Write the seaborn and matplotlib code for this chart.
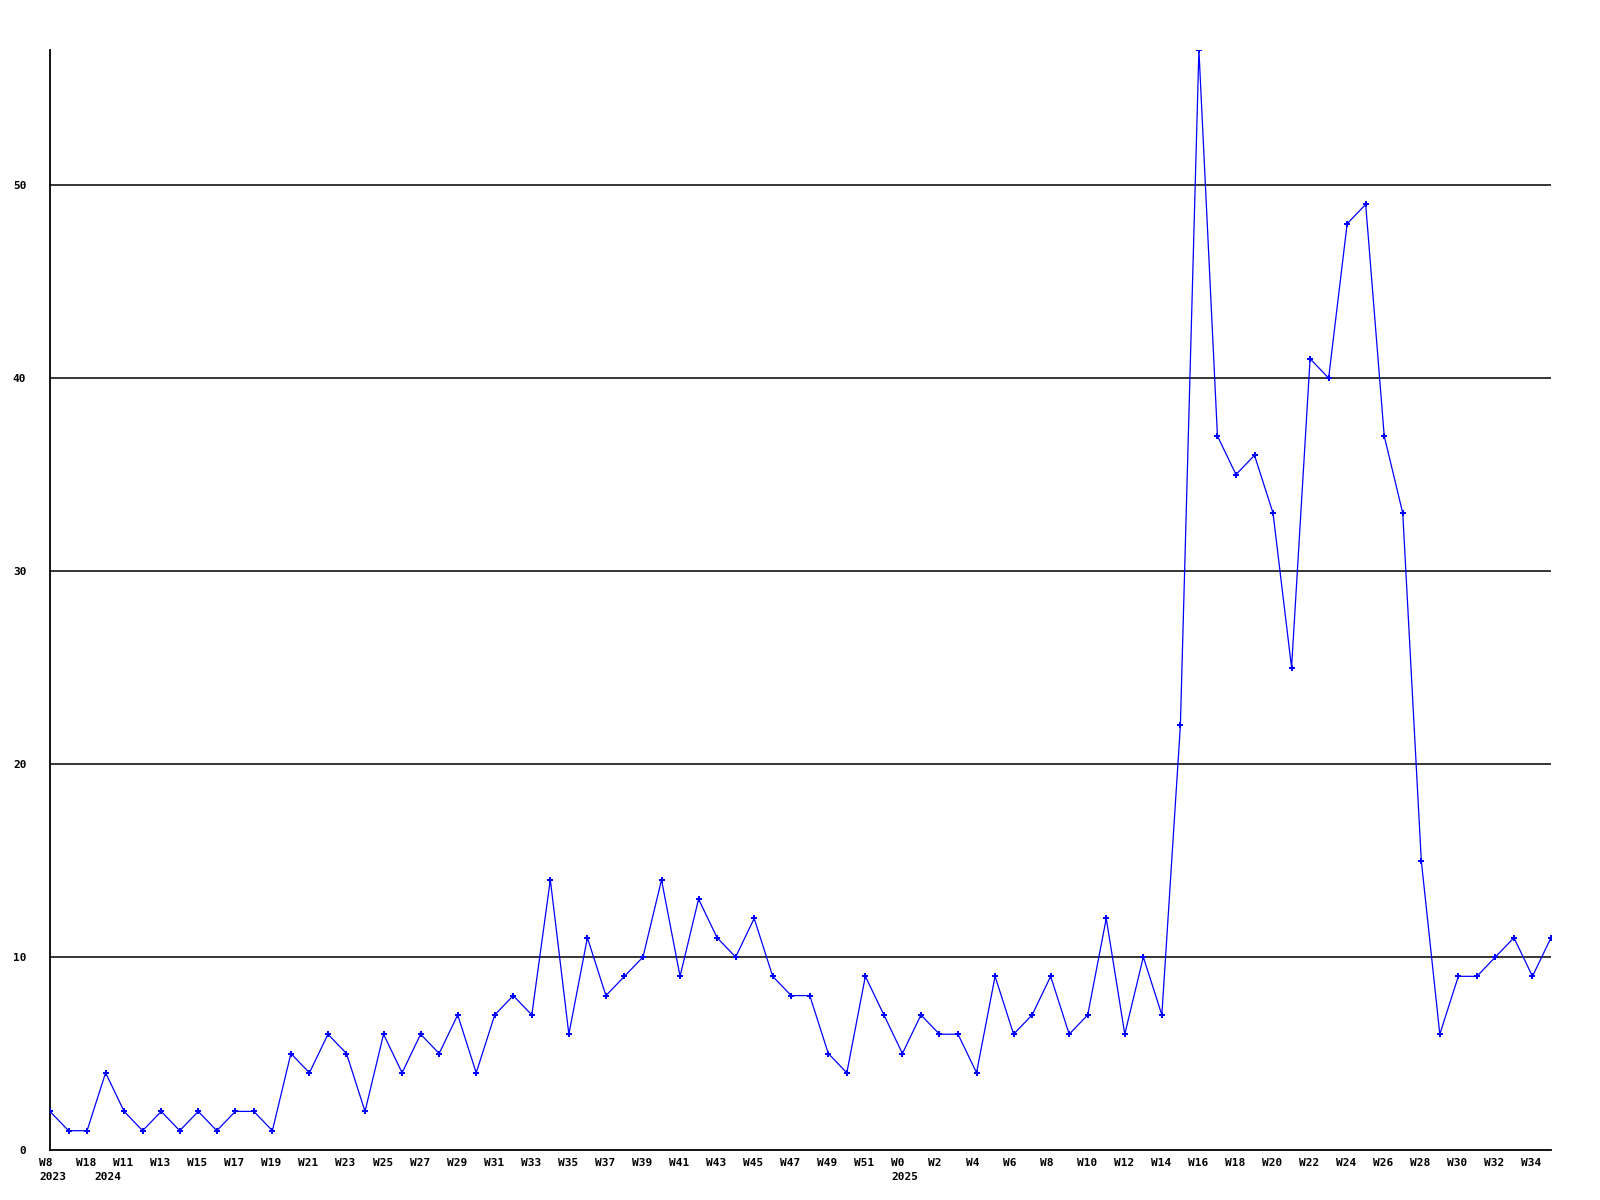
"""
Weekly counts, 2023 W8 .. 2025 W35, as a single blue line with plus markers.
"""
import matplotlib

matplotlib.use("Agg")
import matplotlib.pyplot as plt
import matplotlib.transforms as mtransforms
import pandas as pd
import seaborn as sns

# year / ISO-ish week of each point, in order
years = [2023] * 3 + [2024] * 43 + [2025] * 36
weeks = [8, 12, 18] + list(range(10, 53)) + list(range(0, 36))

counts = [
    2, 1, 1, 4, 2, 1, 2, 1, 2, 1,
    2, 2, 1, 5, 4, 6, 5, 2, 6, 4,
    6, 5, 7, 4, 7, 8, 7, 14, 6, 11,
    8, 9, 10, 14, 9, 13, 11, 10, 12, 9,
    8, 8, 5, 4, 9, 7, 5, 7, 6, 6,
    4, 9, 6, 7, 9, 6, 7, 12, 6, 10,
    7, 22, 57, 37, 35, 36, 33, 25, 41, 40,
    48, 49, 37, 33, 15, 6, 9, 9, 10, 11,
    9, 11,
]

df = pd.DataFrame({"year": years, "week": weeks, "count": counts})
df["pos"] = range(len(df))
df["label"] = "W" + df["week"].astype(str)

sns.set_style("white")
plt.rcParams["font.family"] = ["DejaVu Sans Mono", "DejaVu Sans"]
plt.rcParams["text.color"] = "black"

fig = plt.figure(figsize=(16, 12), dpi=100)
ax = fig.add_axes([50 / 1600, 50 / 1200, 1501 / 1600, 1100 / 1200])

for y in [10, 20, 30, 40, 50]:
    ax.axhline(y, color="black", linewidth=1.1, zorder=1)

sns.lineplot(data=df, x="pos", y="count", ax=ax, color="#0000ff",
             linewidth=0.9, marker="P", markersize=5,
             markeredgewidth=0, zorder=3)

ax.set_xlim(df["pos"].min(), df["pos"].max())
ax.set_ylim(0, df["count"].max())
ax.set_xlabel("")
ax.set_ylabel("")

for side in ["top", "right"]:
    ax.spines[side].set_visible(False)
for side in ["left", "bottom"]:
    ax.spines[side].set_color("black")
    ax.spines[side].set_linewidth(1.3)

shown = df.iloc[::2]
ax.set_xticks(shown["pos"])
ax.set_xticklabels(shown["label"], ha="left", fontsize=8, fontweight="bold")
ax.set_yticks([0, 10, 20, 30, 40, 50])
ax.set_yticklabels(["0", "10", "20", "30", "40", "50"], fontsize=8,
                   fontweight="bold")
ax.tick_params(axis="both", length=0, labelcolor="black")
ax.tick_params(axis="y", pad=17)
ax.tick_params(axis="x", pad=6)

shift = mtransforms.ScaledTranslation(-11 / 100, 0, fig.dpi_scale_trans)
for lab in ax.get_xticklabels():
    lab.set_transform(lab.get_transform() + shift)

# year captions under the first point of each year
first = df.groupby("year")["pos"].min()
trans = mtransforms.blended_transform_factory(ax.transData, ax.transAxes) + shift
for yr, pos in first.items():
    ax.text(pos, -27 / 1100, str(yr), transform=trans, ha="left", va="center",
            fontsize=8, fontweight="bold", color="black")

fig.savefig("out.png", dpi=100)
